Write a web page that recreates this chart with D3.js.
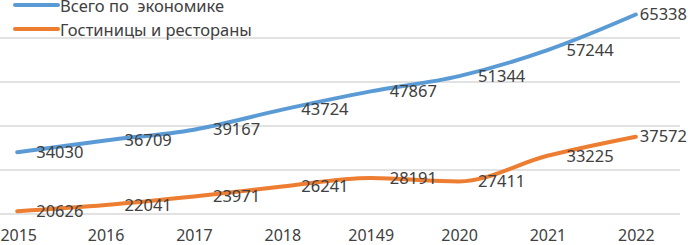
<!DOCTYPE html>
<html>
<head>
<meta charset="utf-8">
<script src="https://cdn.jsdelivr.net/npm/d3@7"></script>
<style>
  body { margin: 0; background: #fff; }
  svg text { font-family: "Noto Sans", "Open Sans", sans-serif; fill: #404040; }
</style>
</head>
<body>
<div id="chart"></div>
<script>
// chart data
const years = ['2015', '2016', '2017', '2018', '20149', '2020', '2021', '2022'];
const totalEconomy = [34030, 36709, 39167, 43724, 47867, 51344, 57244, 65338];
const hotelsRestaurants = [20626, 22041, 23971, 26241, 28191, 27411, 33225, 37572];
const seriesNames = ['Всего по  экономике', 'Гостиницы и рестораны'];
const yTicks = [20000, 30000, 40000, 50000, 60000, 70000];

const width = 688, height = 245;

const svg = d3.select('#chart').append('svg')
    .attr('width', width)
    .attr('height', height);

const x = d3.scalePoint().domain(years).range([-27, 680]).padding(0.5);
const y = d3.scaleLinear().domain([20000, 70000]).range([214, -6]);

// gridlines
svg.append('g')
    .selectAll('line')
    .data(yTicks)
    .enter()
    .append('line')
    .attr('x1', 0)
    .attr('x2', 680)
    .attr('y1', d => y(d))
    .attr('y2', d => y(d))
    .attr('stroke', '#d9d9d9')
    .attr('stroke-width', 1.5);

// x axis labels
svg.append('g')
    .attr('transform', 'translate(0,227)')
    .call(d3.axisBottom(x).tickSize(0).tickPadding(0))
    .call(g => g.select('.domain').remove())
    .selectAll('text')
    .attr('dy', '0.9em')
    .attr('x', (d, i) => i === 0 ? 1 : 0)
    .style('font-size', '16px')
    .style('font-family', '"Noto Sans", sans-serif')
    .style('fill', '#404040');

const series = [
    { name: seriesNames[0], values: totalEconomy, color: '#5b9bd5' },
    { name: seriesNames[1], values: hotelsRestaurants, color: '#ed7d31' }
];

const line = d3.line()
    .x((d, i) => x(years[i]))
    .y(d => y(d))
    .curve(d3.curveMonotoneX);

series.forEach(s => {
    svg.append('path')
        .datum(s.values)
        .attr('fill', 'none')
        .attr('stroke', s.color)
        .attr('stroke-width', 4)
        .attr('stroke-linecap', 'round')
        .attr('d', line);

    svg.append('g')
        .selectAll('text')
        .data(s.values)
        .enter()
        .append('text')
        .attr('y', d => y(d))
        .attr('dy', '0.35em')
        .style('font-size', '16.5px')
        .text(d => d)
        .attr('x', function (d, i) {
            // keep labels inside the picture, like Excel does
            const w = this.getComputedTextLength();
            return Math.min(x(years[i]) + 19, width - w - 1);
        });
});

// legend
const legend = svg.append('g');
series.forEach((s, i) => {
    const ly = 5 + i * 24;
    legend.append('line')
        .attr('x1', 15).attr('x2', 58)
        .attr('y1', ly).attr('y2', ly)
        .attr('stroke', s.color)
        .attr('stroke-width', 4)
        .attr('stroke-linecap', 'round');
    legend.append('text')
        .attr('x', 60)
        .attr('y', ly + 1.5)
        .attr('dy', '0.35em')
        .style('font-size', '16.5px')
        .style('white-space', 'pre')
        .text(s.name);
});
</script>
</body>
</html>
